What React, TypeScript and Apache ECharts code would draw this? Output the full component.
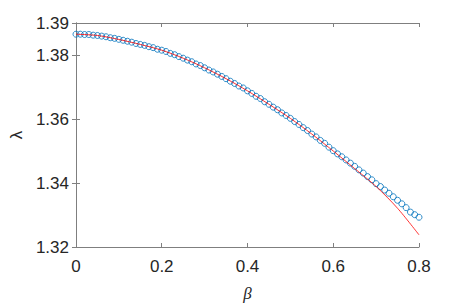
import React, { useEffect, useRef } from "react";
import * as echarts from "echarts";

const betaSim = [
  0.0, 0.01, 0.02, 0.03, 0.04, 0.05, 0.06, 0.07, 0.08, 0.09,
  0.1, 0.11, 0.12, 0.13, 0.14, 0.15, 0.16, 0.17, 0.18, 0.19,
  0.2, 0.21, 0.22, 0.23, 0.24, 0.25, 0.26, 0.27, 0.28, 0.29,
  0.3, 0.31, 0.32, 0.33, 0.34, 0.35, 0.36, 0.37, 0.38, 0.39,
  0.4, 0.41, 0.42, 0.43, 0.44, 0.45, 0.46, 0.47, 0.48, 0.49,
  0.5, 0.51, 0.52, 0.53, 0.54, 0.55, 0.56, 0.57, 0.58, 0.59,
  0.6, 0.61, 0.62, 0.63, 0.64, 0.65, 0.66, 0.67, 0.68, 0.69,
  0.7, 0.71, 0.72, 0.73, 0.74, 0.75, 0.76, 0.77, 0.78, 0.79,
  0.8,
];

const lambdaSim = [
  1.3865, 1.3865, 1.3864, 1.3864, 1.3862, 1.3861, 1.3859, 1.3857, 1.3854, 1.3852,
  1.3849, 1.3846, 1.3843, 1.384, 1.3836, 1.3833, 1.383, 1.3826, 1.3823, 1.3818,
  1.3815, 1.3811, 1.3805, 1.3801, 1.3795, 1.379, 1.3784, 1.3779, 1.3772, 1.3767,
  1.376, 1.3753, 1.3747, 1.374, 1.3733, 1.3726, 1.3718, 1.3711, 1.3703, 1.3697,
  1.3688, 1.368, 1.3671, 1.3664, 1.3654, 1.3646, 1.3637, 1.3629, 1.3619, 1.3611,
  1.3602, 1.3592, 1.3583, 1.3573, 1.3564, 1.3553, 1.3544, 1.3533, 1.3524, 1.3512,
  1.3501, 1.3491, 1.3482, 1.3472, 1.3462, 1.3452, 1.3441, 1.3431, 1.342, 1.341,
  1.3398, 1.3389, 1.3378, 1.3368, 1.3357, 1.3346, 1.3335, 1.3323, 1.3309, 1.3301,
  1.3293,
];

const betaTheory = [0, 0.05, 0.1, 0.15, 0.2, 0.25, 0.3, 0.35, 0.4, 0.45, 0.5, 0.55, 0.6, 0.65, 0.7, 0.75, 0.8];
const lambdaTheory = [
  1.3865, 1.3861, 1.38485, 1.3833, 1.3815, 1.379, 1.376, 1.3726, 1.3688,
  1.3646, 1.3602, 1.3553, 1.35, 1.3445, 1.3389, 1.3321, 1.3238,
];

const xTicks = { min: 0, max: 0.8, interval: 0.2 };
const yTicks = { min: 1.32, max: 1.39, interval: 0.02 };

const AXIS_COLOR = "#7f7f7f";
const TEXT_COLOR = "#262626";
const FONT = "'Liberation Sans', Arial, Helvetica, sans-serif";

export default function App() {
  const ref = useRef<HTMLDivElement>(null);
  useEffect(() => {
    if (!ref.current) return;
    const chart = echarts.init(ref.current, undefined, { renderer: "svg" });
    const fmtX = (v: number) => (Math.abs(v) < 1e-9 ? "0" : String(Math.round(v * 10) / 10));
    const fmtY = (v: number) => v.toFixed(2);
    const baseAxis = {
      axisLine: { show: true, lineStyle: { color: AXIS_COLOR, width: 1 } },
      axisTick: { show: true, inside: true, length: 4, lineStyle: { color: AXIS_COLOR } },
      splitLine: { show: false },
    };
    chart.setOption({
      animation: false,
      backgroundColor: "#ffffff",
      grid: { left: 71, right: 44, top: 23, bottom: 58, containLabel: false },
      xAxis: [
        {
          type: "value",
          ...xTicks,
          ...baseAxis,
          position: "bottom",
          axisLabel: { color: TEXT_COLOR, fontSize: 17, fontFamily: FONT, margin: 11, formatter: fmtX },
          name: "β",
          nameLocation: "middle",
          nameGap: 38,
          nameTextStyle: { color: TEXT_COLOR, fontSize: 17, fontStyle: "italic", fontFamily: "'Liberation Serif', serif" },
        },
        {
          type: "value",
          ...xTicks,
          ...baseAxis,
          position: "top",
          axisLabel: { show: false },
        },
      ],
      yAxis: [
        {
          type: "value",
          ...yTicks,
          ...baseAxis,
          position: "left",
          axisLabel: { color: TEXT_COLOR, fontSize: 17, fontFamily: FONT, margin: 7, formatter: fmtY, showMaxLabel: true, showMinLabel: true },
          name: "λ",
          nameLocation: "middle",
          nameRotate: 90,
          nameGap: 50,
          nameTextStyle: { color: TEXT_COLOR, fontSize: 17, fontFamily: FONT },
        },
        {
          type: "value",
          ...yTicks,
          ...baseAxis,
          position: "right",
          axisLabel: { show: false },
        },
      ],
      series: [
        {
          type: "scatter",
          data: betaSim.map((b, i) => [b, lambdaSim[i]]),
          symbol: "circle",
          symbolSize: 6,
          itemStyle: { color: "rgba(0,0,0,0)", borderColor: "#0072BD", borderWidth: 1 },
          xAxisIndex: 0,
          yAxisIndex: 0,
          z: 2,
        },
        {
          type: "line",
          data: betaTheory.map((b, i) => [b, lambdaTheory[i]]),
          showSymbol: false,
          smooth: 0.3,
          lineStyle: { color: "#ff0000", width: 0.8 },
          xAxisIndex: 0,
          yAxisIndex: 0,
          z: 3,
        },
      ],
    });
    return () => chart.dispose();
  }, []);
  return <div ref={ref} style={{ width: 463, height: 307, position: "absolute", left: 0, top: 0 }} />;
}
